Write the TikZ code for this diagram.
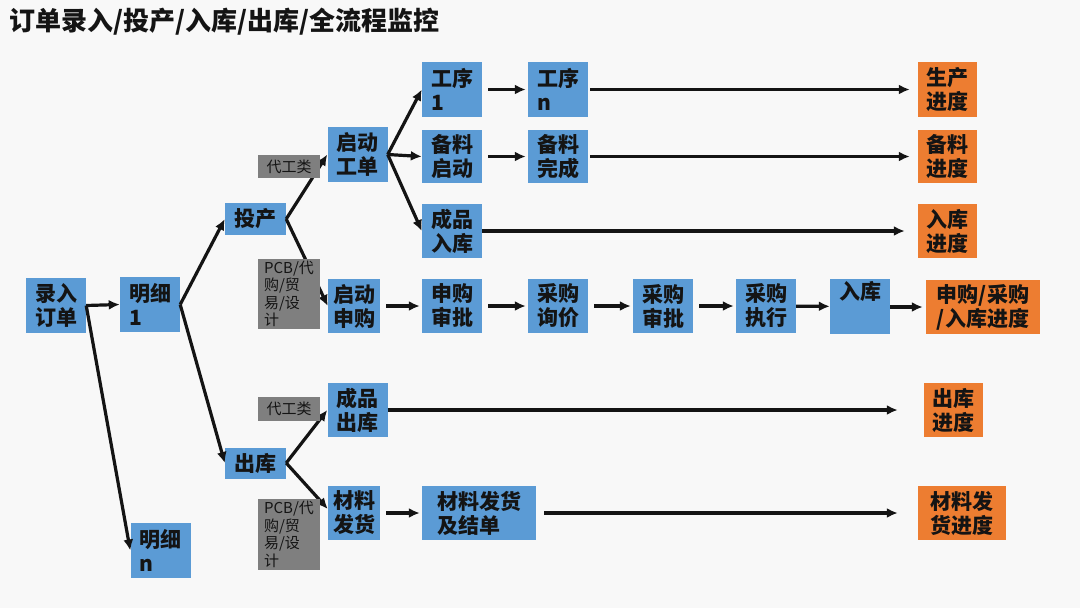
\documentclass[tikz,border=0pt]{standalone}
\usepackage{fontspec}
\newfontfamily\cjk{Noto Sans CJK SC}
\usetikzlibrary{arrows.meta}

\definecolor{boxblue}{HTML}{5B9BD5}
\definecolor{boxorange}{HTML}{ED7D31}
\definecolor{boxgray}{HTML}{7F7F7F}
\definecolor{inkdark}{HTML}{141414}
\definecolor{paper}{HTML}{F8F8F8}

\tikzset{
  procbox/.style={fill=boxblue, text=inkdark, font=\cjk\bfseries\fontsize{21}{24}\selectfont,
    align=left, inner sep=0pt, minimum width=60pt, minimum height=55pt},
  progbox/.style={procbox, fill=boxorange},
  catbox/.style={fill=boxgray, text=inkdark, font=\cjk\fontsize{15}{17.5}\selectfont,
    align=left, inner sep=2pt, minimum width=62pt},
  flow/.style={-{Latex[length=11pt,width=10pt]}, line width=3.2pt, inkdark},
  hop/.style={flow, shorten <=6pt, shorten >=2pt},
}

\begin{document}
\begin{tikzpicture}[x=1pt, y=-1pt]

      % Fundo
      \useasboundingbox (0,0) rectangle (1080,608);
      \fill[paper] (0,0) rectangle (1080,608);

      % Titulo
      \node[anchor=west, text=inkdark, font=\cjk\bfseries\fontsize{26}{28}\selectfont]
        (title) at (6,22) {订单录入/投产/入库/出库/全流程监控};

      % Pedido e detalhes
      \node[procbox] (lr)  at (56,305.5)  {录入\\订单};
      \node[procbox] (mx1) at (150,304.5) {明细\\1};
      \node[procbox] (mxn) at (160.5,550.5) {明细\\n};

      % Producao / expedicao
      \node[procbox, minimum width=61pt, minimum height=32pt] (tc) at (255.5,219) {投产};
      \node[procbox, minimum width=61pt, minimum height=31pt] (ck) at (255.5,463) {出库};

      % Segundo nivel
      \node[procbox] (qdgd) at (357.5,154.5) {启动\\工单};
      \node[procbox, minimum width=52pt, minimum height=54pt] (qdsg) at (354,306) {启动\\申购};
      \node[procbox, minimum height=54pt] (cpck) at (357.5,410) {成品\\出库};
      \node[procbox, minimum width=52pt, minimum height=54pt] (clfh) at (354,513) {材料\\发货};

      % Ramo do pedido de producao
      \node[procbox] (gx1) at (452,89.5) {工序\\1};
      \node[procbox] (gxn) at (558,89.5) {工序\\n};
      \node[procbox, minimum height=53pt] (blqd) at (452,156.5) {备料\\启动};
      \node[procbox, minimum height=53pt] (blwc) at (558,156.5) {备料\\完成};
      \node[procbox, minimum height=54pt] (cprk) at (452,231) {成品\\入库};

      % Ramo de compras
      \node[procbox, minimum height=54pt] (sgsp) at (452,306) {申购\\审批};
      \node[procbox, minimum height=54pt] (cgxj) at (558,306) {采购\\询价};
      \node[procbox, minimum height=54pt] (cgsp) at (663,306) {采购\\审批};
      \node[procbox, minimum height=54pt] (cgzx) at (766,306) {采购\\执行};
      \node[procbox] (rk) at (860,306.5) {入库\\[8pt]};

      % Expedicao de material
      \node[procbox, minimum width=114pt, minimum height=54pt] (clfhjs) at (479,513) {材料发货\\及结单};

      % Caixas de progresso (laranja)
      \node[progbox, minimum width=59pt] (scjd) at (947.5,89.5) {生产\\进度};
      \node[progbox, minimum width=59pt, minimum height=53pt] (bljd) at (947.5,156.5) {备料\\进度};
      \node[progbox, minimum width=59pt, minimum height=54pt] (rkjd) at (947.5,231) {入库\\进度};
      \node[progbox, minimum width=114pt, minimum height=54pt, align=center] (sgjd) at (983,307) {申购/采购\\/入库进度};
      \node[progbox, minimum width=59pt, minimum height=54pt] (ckjd) at (953.5,410) {出库\\进度};
      \node[progbox, minimum width=88pt, minimum height=54pt] (fhjd) at (962,513) {材料发\\货进度};

      % Conexoes
      \draw[flow] (lr.east) -- (mx1.west);
      \draw[flow] (lr.east) -- (mxn.west);
      \draw[flow] (mx1.east) -- (tc.west);
      \draw[flow] (mx1.east) -- (ck.west);

      \draw[flow] (tc.east) -- (qdgd.west);
      \draw[flow] (tc.east) -- (qdsg.west);
      \draw[flow] (ck.east) -- (cpck.west);
      \draw[flow] (ck.east) -- ([yshift=4pt]clfh.west);

      \draw[flow] (qdgd.east) -- (gx1.west);
      \draw[flow] (qdgd.east) -- (blqd.west);
      \draw[flow] (qdgd.east) -- (cprk.west);

      \draw[hop] (gx1) -- (gxn);
      \draw[hop] (blqd) -- (blwc);
      \draw[flow, shorten <=2pt, shorten >=8pt] (gxn) -- (scjd);
      \draw[flow, shorten <=2pt, shorten >=8pt] (blwc) -- (bljd);
      \draw[flow, shorten >=13pt] (cprk) -- (rkjd);

      \draw[hop] (qdsg) -- (sgsp);
      \draw[hop] (sgsp) -- (cgxj);
      \draw[hop] (cgxj) -- (cgsp);
      \draw[hop] (cgsp) -- (cgzx);
      \draw[flow] (cgzx) -- (rk);
      \draw[flow, shorten >=3pt] (rk.east |- sgjd.west) -- (sgjd.west);

      \draw[flow, shorten >=26pt] (cpck) -- (ckjd);
      \draw[hop] (clfh) -- (clfhjs);
      \draw[flow, shorten <=8pt, shorten >=20pt] (clfhjs) -- (fhjd);

      % Categorias (cinza, por cima das linhas)
      \node[catbox, minimum height=23pt] (dgl1) at (289,166.5) {代工类};
      \node[catbox, minimum height=70pt] (pcb1) at (289,294) {PCB/代\\购/贸\\易/设\\计};
      \node[catbox, minimum height=24pt] (dgl2) at (289,409) {代工类};
      \node[catbox, minimum height=69pt] (pcb2) at (289,534.5) {PCB/代\\购/贸\\易/设\\计};

\end{tikzpicture}
\end{document}
